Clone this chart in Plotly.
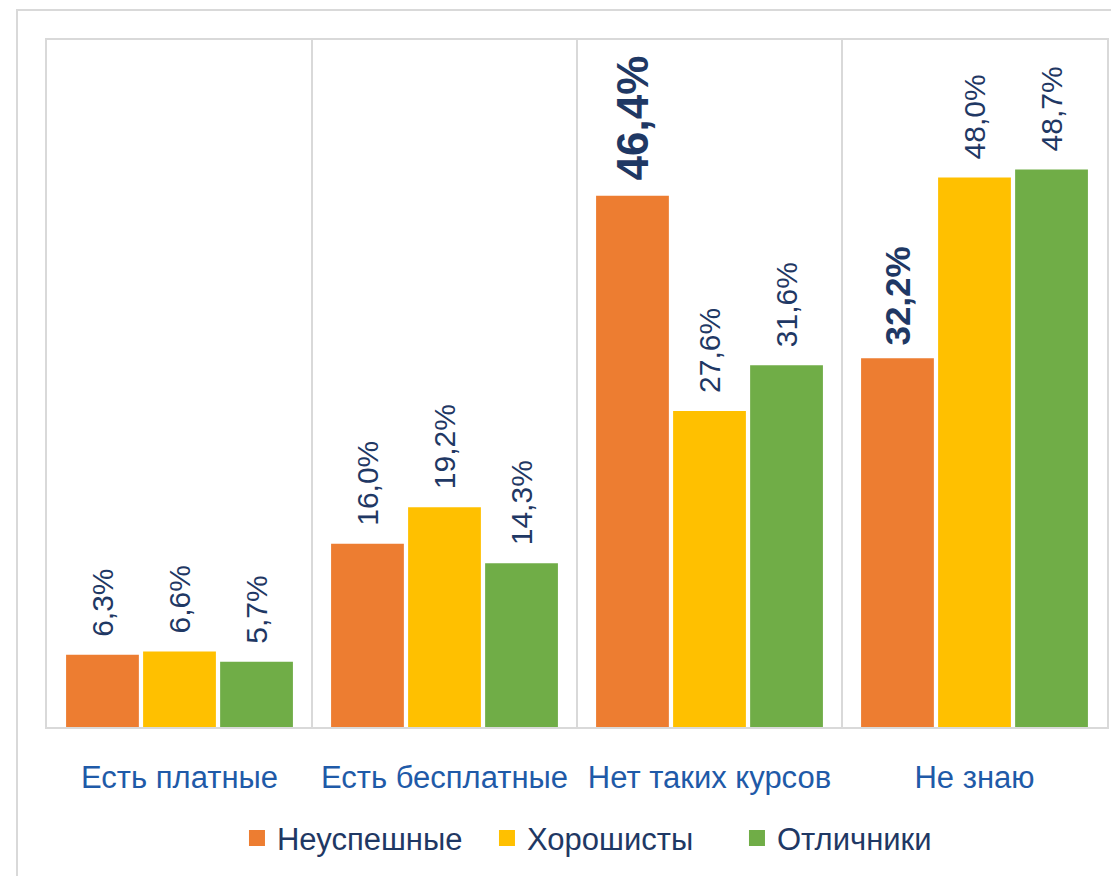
import plotly.graph_objects as go

categories = ["Есть платные", "Есть бесплатные", "Нет таких курсов", "Не знаю"]
series_names = ["Неуспешные", "Хорошисты", "Отличники"]
neuspeshnye = [6.3, 16.0, 46.4, 32.2]
khoroshisty = [6.6, 19.2, 27.6, 48.0]
otlichniki = [5.7, 14.3, 31.6, 48.7]
highlight = {("Неуспешные", 2), ("Неуспешные", 3)}

colors = ["#ED7D31", "#FFC000", "#70AD47"]
FONT = "Liberation Sans, Arial, sans-serif"
LABEL_COLOR = "#1F3864"

fig = go.Figure()
for name, vals, col in zip(series_names, [neuspeshnye, khoroshisty, otlichniki], colors):
    texts, sizes = [], []
    for i, v in enumerate(vals):
        s = f"{v:.1f}".replace(".", ",") + "%"
        if (name, i) in highlight:
            texts.append("\u00a0<b>" + s + "</b>")
            sizes.append(44 if v > 40 else 35)
        else:
            texts.append("\u2002" + s)
            sizes.append(30)
    fig.add_trace(go.Bar(
        x=categories, y=vals, name=name, marker=dict(color=col, line=dict(width=0)),
        text=texts, textposition="outside", textangle=-90, constraintext="none",
        textfont=dict(family=FONT, size=sizes, color=LABEL_COLOR),
        cliponaxis=False, showlegend=False, hoverinfo="skip",
    ))
    fig.add_trace(go.Scatter(
        x=[None], y=[None], mode="markers", name=name,
        marker=dict(symbol="square", size=16, color=col), showlegend=True,
    ))

fig.update_layout(
    width=1119, height=876,
    margin=dict(l=39, r=20, t=32, b=157, autoexpand=False),
    paper_bgcolor="white", plot_bgcolor="white",
    barmode="group", bargap=0.128, bargroupgap=0.055,
    legend=dict(orientation="h", x=0.533, xanchor="center", y=-0.162, yanchor="middle",
                font=dict(family=FONT, size=31, color=LABEL_COLOR),
                entrywidth=205, entrywidthmode="pixels",
                itemclick=False, traceorder="normal"),
    shapes=[dict(type="rect", xref="paper", yref="paper", x0=-0.0283, x1=1.1,
                 y0=-0.5, y1=1.0437, line=dict(color="#D9D9D9", width=2),
                 fillcolor="rgba(0,0,0,0)", layer="below")],
)
fig.update_xaxes(
    tickson="boundaries", showgrid=True, gridcolor="#D9D9D9", gridwidth=2,
    showline=True, linecolor="#D9D9D9", linewidth=2, mirror=True,
    ticks="", ticklabelstandoff=22, tickangle=0, automargin=False,
    tickfont=dict(family=FONT, size=31, color="#1F5AA8"),
)
fig.update_yaxes(
    range=[0, 60], showgrid=False, showticklabels=False, zeroline=False,
    showline=True, linecolor="#D9D9D9", linewidth=2, mirror=True, automargin=False,
)
fig.write_html("out.html")
